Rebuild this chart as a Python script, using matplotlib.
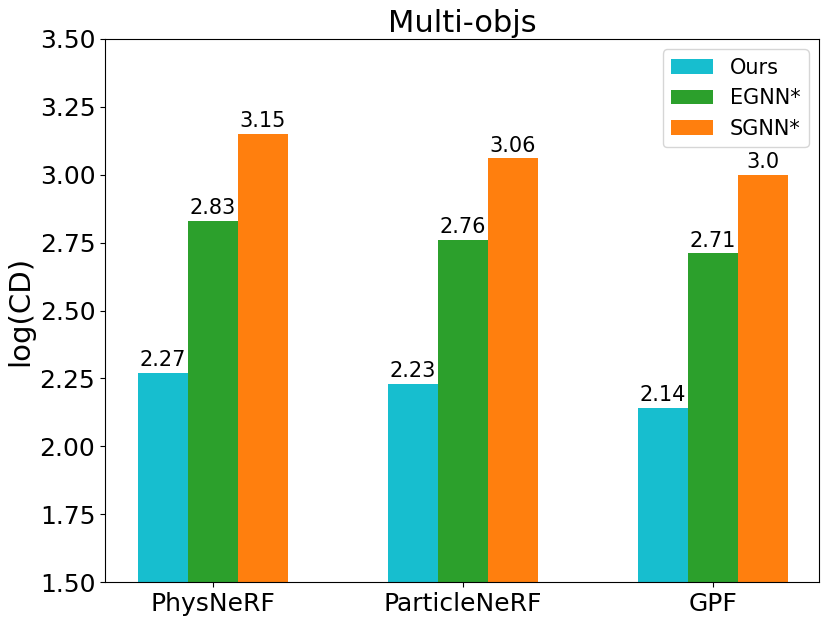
import matplotlib
matplotlib.use("Agg")
import matplotlib.pyplot as plt
import numpy as np

categories = ["PhysNeRF", "ParticleNeRF", "GPF"]
series_names = ["Ours", "EGNN*", "SGNN*"]
ours = [2.27, 2.23, 2.14]
egnn = [2.83, 2.76, 2.71]
sgnn = [3.15, 3.06, 3.0]
colors = ["#17becf", "#2ca02c", "#ff7f0e"]

fig = plt.figure(figsize=(8.3, 6.23), dpi=100)
ax = fig.add_axes([105/830, 1-582/623, (819-105)/830, (582-39)/623])

ind = np.arange(len(categories))
w = 0.2
for i, (vals, name, c) in enumerate(zip([ours, egnn, sgnn], series_names, colors)):
    bars = ax.bar(ind + (i - 1) * w, vals, w, label=name, color=c)
    ax.bar_label(bars, labels=[str(v) for v in vals], fontsize=15, padding=2)

ax.set_ylim(1.5, 3.5)
ax.set_xlim(-0.432, 2.424)
ax.set_xticks(ind)
ax.set_xticklabels(categories)
ax.tick_params(axis="both", labelsize=18)
ax.set_ylabel("log(CD)", fontsize=21)
ax.set_title("Multi-objs", fontsize=22, pad=5)
ax.legend(loc="upper right", fontsize=15)

fig.savefig("out.png", dpi=100)
